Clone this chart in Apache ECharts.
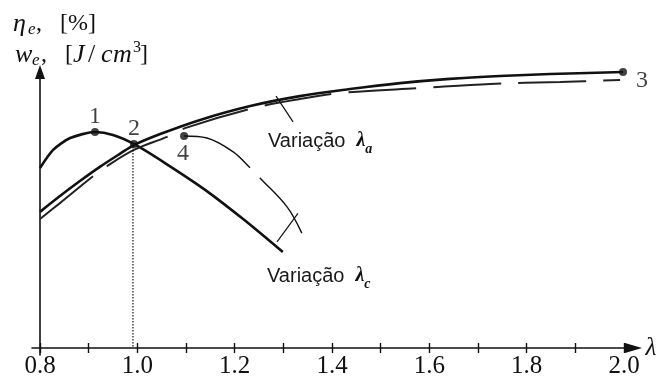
<!DOCTYPE html>
<html><head><meta charset="utf-8">
<script src="https://cdn.jsdelivr.net/npm/echarts@6/dist/echarts.min.js"></script>
<style>html,body{margin:0;padding:0;background:#fff}#c{width:662px;height:380px}</style>
</head><body><div id="c"></div>
<script>
// ---- data ----
const lambdaMin = 0.8, lambdaMax = 2.0, lambdaStep = 0.1;
const labeledTicks = ['0.8','1.0','1.2','1.4','1.6','1.8','2.0'];

// thick curve through points 1 and 2 (variação λc)
const curveAX = [0.800, 0.827, 0.862, 0.913, 0.950, 0.993, 1.060, 1.140, 1.220, 1.299];
const curveAY = [63.6, 70.0, 74.2, 76.3, 75.3, 72.1, 65.0, 55.8, 45.2, 33.9];

// thick rising curve to point 3 (variação λa)
const curveBX = [0.800, 0.841, 0.882, 0.923, 0.964, 0.993, 1.047, 1.129, 1.232, 1.334, 1.437, 1.540, 1.642, 1.745, 1.848, 1.998];
const curveBY = [48.1, 53.7, 59.0, 64.0, 68.6, 71.7, 75.6, 80.6, 85.5, 89.0, 91.5, 93.6, 95.1, 96.1, 96.8, 97.5];

// dashed curve below B
const curveCX = [0.800, 0.841, 0.907, 0.938, 0.993, 1.061, 1.098, 1.232, 1.334, 1.416, 1.587, 1.725, 1.869, 1.992];
const curveCY = [45.6, 51.2, 60.4, 64.3, 70.0, 74.6, 77.7, 84.5, 88.0, 90.1, 91.9, 93.3, 94.0, 94.7];

// thin curve from point 4
const curveDX = [1.096, 1.143, 1.197, 1.232, 1.252, 1.308, 1.338];
const curveDY = [74.9, 74.2, 69.3, 63.6, 60.1, 49.8, 40.6];

// marked points
const pointNames = ['1', '2', '3', '4'];
const pointX = [0.913, 0.993, 1.998, 1.096];
const pointY = [76.3, 72.1, 97.5, 74.9];

// annotation segments
const dropX = [0.991, 0.991], dropY = [72.1, 0];
const leaderAX = [1.285, 1.320], leaderAY = [89.0, 79.9];
const leaderCX = [1.287, 1.330], leaderCY = [37.5, 47.6];

// ---- chart ----
const zip = (xs, ys) => xs.map((x, i) => [x, ys[i]]);
const ink = '#111';
const serif = 'Liberation Serif';

const labelPos = {
  '1': [0, -15], '2': [0, -15], '3': [19, 9], '4': [-1, 18]
};

const chart = echarts.init(document.getElementById('c'), null, {renderer: 'canvas'});
chart.setOption({
  animation: false,
  backgroundColor: '#fff',
  grid: [
    {left: 40, right: 38, top: 65, bottom: 32},
    {left: 32, right: 28.5, top: 65, bottom: 32},
    {left: 40, right: 20, top: 72, bottom: 25}
  ],
  xAxis: [
    {gridIndex: 0, type: 'value', position: 'bottom', min: lambdaMin, max: lambdaMax, interval: lambdaStep,
     axisLine: {show: false}, splitLine: {show: false},
     axisTick: {show: true, inside: false, length: 5, lineStyle: {color: ink, width: 1.4}},
     axisLabel: {show: true, margin: 6, color: ink, fontFamily: serif, fontSize: 25,
       formatter: v => { const s = v.toFixed(1); return labeledTicks.includes(s) ? s : ''; }}},
    {gridIndex: 0, type: 'value', position: 'bottom', min: lambdaMin, max: lambdaMax, interval: lambdaStep,
     axisLine: {show: false}, splitLine: {show: false}, axisLabel: {show: false},
     axisTick: {show: true, inside: true, length: 5, lineStyle: {color: ink, width: 1.4}}},
    {gridIndex: 1, type: 'value', min: 0, max: 1, position: 'bottom',
     axisLine: {show: true, symbol: ['none', 'triangle'], symbolSize: [10, 17], lineStyle: {color: ink, width: 1.6}},
     axisTick: {show: false}, axisLabel: {show: false}, splitLine: {show: false},
     name: 'λ', nameLocation: 'end', nameGap: 12,
     nameTextStyle: {fontFamily: serif, fontStyle: 'italic', fontSize: 25, color: ink, verticalAlign: 'middle', padding: [0, 0, 4, 0]}},
    {gridIndex: 2, type: 'value', min: 0, max: 1, show: false}
  ],
  yAxis: [
    {gridIndex: 0, type: 'value', min: 0, max: 100, show: false},
    {gridIndex: 1, type: 'value', min: 0, max: 1, show: false},
    {gridIndex: 2, type: 'value', min: 0, max: 1, position: 'left',
     axisLine: {show: true, symbol: ['none', 'triangle'], symbolSize: [10, 14], lineStyle: {color: ink, width: 1.6}},
     axisTick: {show: false}, axisLabel: {show: false}, splitLine: {show: false}}
  ],
  series: [
    {type: 'line', xAxisIndex: 0, yAxisIndex: 0, data: zip(curveAX, curveAY), smooth: 0.25, showSymbol: false,
     lineStyle: {color: ink, width: 2.6}},
    {type: 'line', xAxisIndex: 0, yAxisIndex: 0, data: zip(curveBX, curveBY), smooth: 0.35, showSymbol: false,
     lineStyle: {color: ink, width: 2.6}},
    {type: 'line', xAxisIndex: 0, yAxisIndex: 0, data: zip(curveCX, curveCY), smooth: 0.35, showSymbol: false,
     lineStyle: {color: '#222', width: 2, type: [68, 17]}},
    {type: 'line', xAxisIndex: 0, yAxisIndex: 0, data: zip(curveDX, curveDY), smooth: 0.35, showSymbol: false,
     lineStyle: {color: ink, width: 1.4, type: [76, 14]}},
    {type: 'line', xAxisIndex: 0, yAxisIndex: 0, data: zip(dropX, dropY), showSymbol: false,
     lineStyle: {color: ink, width: 1.2, type: [1.5, 1.5]}},
    {type: 'line', xAxisIndex: 0, yAxisIndex: 0, data: zip(leaderAX, leaderAY), showSymbol: false,
     lineStyle: {color: ink, width: 1.2}},
    {type: 'line', xAxisIndex: 0, yAxisIndex: 0, data: zip(leaderCX, leaderCY), showSymbol: false,
     lineStyle: {color: ink, width: 1.2}},
    {type: 'scatter', xAxisIndex: 0, yAxisIndex: 0, symbolSize: 8, itemStyle: {color: ink},
     data: pointNames.map((n, i) => ({
       name: n, value: [pointX[i], pointY[i]],
       label: {show: true, position: 'inside', offset: labelPos[n], formatter: '{b}',
         fontFamily: serif, fontSize: 24, color: ink}
     }))}
  ],
  graphic: [
    {type: 'text', x: 13, y: 24, style: {
      text: '{i|η}{s|e}{u|,}{b|[%]}', verticalAlign: 'middle', align: 'left',
      rich: {
        i: {fontFamily: serif, fontStyle: 'italic', fontSize: 26, fill: ink, width: 15},
        s: {fontFamily: serif, fontStyle: 'italic', fontSize: 17, fill: ink, width: 8, padding: [12, 0, 0, 0]},
        u: {fontFamily: serif, fontSize: 24, fill: ink, width: 24},
        b: {fontFamily: serif, fontSize: 24, fill: ink}
      }}},
    {type: 'text', x: 15, y: 55, style: {
      text: '{i|w}{s|e}{u|,}{b|[}{j|J}{sl|/}{c|c}{m|m}{p|3}{b|]}', verticalAlign: 'middle', align: 'left',
      rich: {
        i: {fontFamily: serif, fontStyle: 'italic', fontSize: 26, fill: ink, width: 17},
        s: {fontFamily: serif, fontStyle: 'italic', fontSize: 17, fill: ink, width: 9, padding: [12, 0, 0, 0]},
        u: {fontFamily: serif, fontSize: 24, fill: ink, width: 24},
        b: {fontFamily: serif, fontSize: 24, fill: ink, width: 8},
        j: {fontFamily: serif, fontStyle: 'italic', fontSize: 26, fill: ink, width: 13},
        sl: {fontFamily: serif, fontSize: 26, fill: ink, width: 13, padding: [0, 0, 0, 2]},
        c: {fontFamily: serif, fontStyle: 'italic', fontSize: 26, fill: ink, width: 12},
        m: {fontFamily: serif, fontStyle: 'italic', fontSize: 26, fill: ink, width: 20},
        p: {fontFamily: serif, fontSize: 16, fill: ink, width: 7, padding: [0, 0, 14, 0]}
      }}},
    {type: 'text', x: 268, y: 141, style: {
      text: '{t|Variação}{l|λ}{s|a}', verticalAlign: 'middle', align: 'left',
      rich: {
        t: {fontFamily: 'Liberation Sans', fontSize: 20, fill: '#1a1a1a'},
        l: {fontFamily: serif, fontStyle: 'italic', fontWeight: 'bold', fontSize: 20, fill: ink, padding: [0, 0, 0, 11]},
        s: {fontFamily: serif, fontStyle: 'italic', fontWeight: 'bold', fontSize: 14, fill: ink, padding: [16, 0, 0, 0]}
      }}},
    {type: 'text', x: 267, y: 276, style: {
      text: '{t|Variação}{l|λ}{s|c}', verticalAlign: 'middle', align: 'left',
      rich: {
        t: {fontFamily: 'Liberation Sans', fontSize: 20, fill: '#1a1a1a'},
        l: {fontFamily: serif, fontStyle: 'italic', fontWeight: 'bold', fontSize: 20, fill: ink, padding: [0, 0, 0, 11]},
        s: {fontFamily: serif, fontStyle: 'italic', fontWeight: 'bold', fontSize: 14, fill: ink, padding: [16, 0, 0, 0]}
      }}}
  ]
});
</script>
</body></html>
